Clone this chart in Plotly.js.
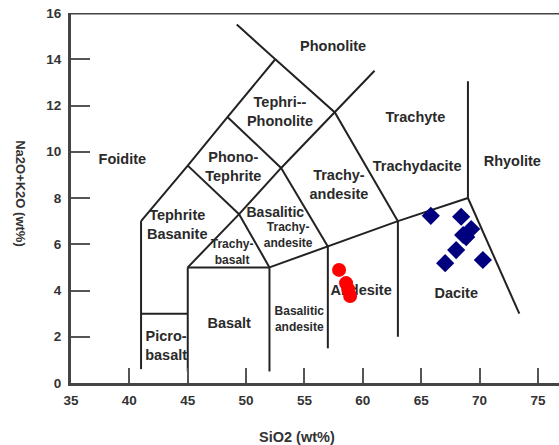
<!DOCTYPE html>
<html>
<head>
<meta charset="utf-8">
<script src="https://cdn.plot.ly/plotly-3.0.1.min.js"></script>
<style>html,body{margin:0;padding:0;background:#fff;}#chart{width:559px;height:445px;}</style>
</head>
<body>
<div id="chart"></div>
<script>
// TAS field boundaries (SiO2, Na2O+K2O), as drawn in the reference
const boundaries = [
  [[41,0.6],[41,7]],
  [[41,3],[45,3]],
  [[45,0.5],[45,5]],
  [[45,5],[52,5]],
  [[52,0.5],[52,5]],
  [[52,5],[57,5.9],[63,7],[69,8]],
  [[57,1.5],[57,5.9]],
  [[63,2],[63,7]],
  [[69,8],[69,13.05]],
  [[69,8],[73.4,3]],
  [[41,7],[45,9.4],[48.4,11.5],[52.5,14],[49.2,15.5]],
  [[45,5],[49.4,7.3],[53,9.3],[57.6,11.7],[61,13.5]],
  [[49.4,7.3],[52,5]],
  [[45,9.4],[49.4,7.3]],
  [[48.4,11.5],[53,9.3]],
  [[52.5,14],[57.6,11.7],[63,7]],
  [[53,9.3],[57,5.9]]
];

// Field names and their anchor points
const fieldNames = ["Phonolite","Trachyte","Rhyolite","Foidite","Tephri--<br>Phonolite","Phono-<br>Tephrite",
  "Trachy-<br>andesite","Trachydacite","Tephrite<br>Basanite","Basalitic","Trachy-<br>andesite","Trachy-<br>basalt",
  "Andesite","Dacite","Basalt","Basalitic<br>andesite","Picro-<br>basalt"];
const fieldX = [57.45,64.5,72.8,39.4,52.9,48.9,57.95,64.65,44.1,52.5,53.6,48.8,59.85,68.0,48.55,54.55,43.15];
const fieldY = [14.53,11.46,9.56,9.64,11.68,9.3,8.52,9.34,6.79,7.35,6.36,5.62,3.98,3.85,2.55,2.72,1.56];
const fieldSize = [14.5,14.5,14.5,14.5,14.5,14.5,14.5,14.5,14.5,14,12,12,14.5,14.5,14.5,12,14.5];

// Samples
const andesiteSiO2 = [57.96,58.56,58.74,58.91];
const andesiteAlk  = [4.89,4.32,4.06,3.76];
const daciteSiO2 = [65.82,68.42,69.28,68.59,68.85,67.99,67.05,70.28];
const daciteAlk  = [7.23,7.19,6.66,6.40,6.31,5.75,5.18,5.32];

const xTicks = [35,40,45,50,55,60,65,70,75];
const yTicks = [0,2,4,6,8,10,12,14,16];

const lx = [], ly = [];
boundaries.forEach(seg => { seg.forEach(p => { lx.push(p[0]); ly.push(p[1]); }); lx.push(null); ly.push(null); });

const traces = [
  {x: lx, y: ly, mode: 'lines', line: {color: '#222', width: 2}, hoverinfo: 'skip', connectgaps: false},
  {x: fieldX, y: fieldY, mode: 'text', text: fieldNames,
   textfont: {family: 'Liberation Sans, Arial, sans-serif', size: fieldSize, color: '#2a2a2a', weight: 'bold'}},
  {x: andesiteSiO2, y: andesiteAlk, mode: 'markers', marker: {symbol: 'circle', size: 14, color: '#ff0000'}},
  {x: daciteSiO2, y: daciteAlk, mode: 'markers', marker: {symbol: 'diamond', size: 14, color: '#00007f'}}
];

const tickFont = {family: 'Liberation Sans, Arial, sans-serif', size: 13.5, color: '#333', weight: 'bold'};
const titleFont = {family: 'Liberation Sans, Arial, sans-serif', size: 14.5, color: '#333', weight: 'bold'};

const layout = {
  width: 559, height: 445,
  margin: {l: 71, r: 0, t: 13, b: 62},
  showlegend: false,
  paper_bgcolor: '#fff', plot_bgcolor: '#fff',
  xaxis: {range: [35, 76.8], tickvals: xTicks, ticks: 'inside', ticklen: 15, tickwidth: 2, tickcolor: '#555',
          showgrid: false, zeroline: false, showline: true, linecolor: '#444', linewidth: 3,
          tickfont: tickFont, ticklabelstandoff: 3},
  yaxis: {range: [0, 16], tickvals: yTicks, ticks: 'inside', ticklen: 19, tickwidth: 2, tickcolor: '#555',
          showgrid: false, zeroline: false, showline: true, linecolor: '#444', linewidth: 3,
          tickfont: tickFont, ticklabelstandoff: 4},
  shapes: [
    {type: 'line', xref: 'paper', yref: 'y', x0: 0, x1: 1, y0: 16, y1: 16, line: {color: '#444', width: 3}}
  ],
  annotations: [
    {text: 'SiO2 (wt%)', xref: 'paper', yref: 'paper', x: 0.463, y: -0.146, showarrow: false,
     xanchor: 'center', yanchor: 'middle', font: titleFont},
    {text: 'Na2O+K2O (wt%)', xref: 'paper', yref: 'paper', x: -0.105, y: 0.511, showarrow: false,
     textangle: 90, xanchor: 'center', yanchor: 'middle', font: {family: 'Liberation Sans, Arial, sans-serif', size: 13, color: '#333', weight: 'bold'}}
  ]
};

Plotly.newPlot('chart', traces, layout, {displayModeBar: false, staticPlot: true});
</script>
</body>
</html>
